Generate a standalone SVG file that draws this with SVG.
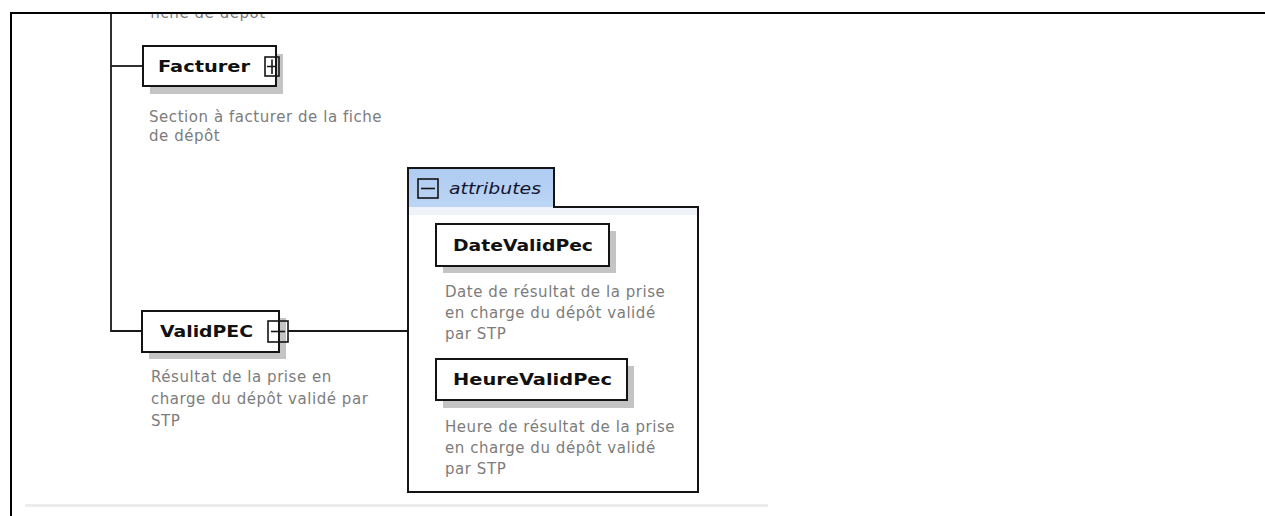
<svg xmlns="http://www.w3.org/2000/svg" width="1265" height="516" viewBox="0 0 1265 516">
<style>
.ln{stroke:#1a1a1a;stroke-width:1.8;fill:none}
.box{fill:#fff;stroke:#141414;stroke-width:2}
.sh{fill:#c4c4c4}
.nm{font-family:"DejaVu Sans","Liberation Sans",sans-serif;font-weight:bold;font-size:16px;fill:#111}
.ds{font-family:"DejaVu Sans","Liberation Sans",sans-serif;font-size:15px;fill:#7c7c7c}
.ic{fill:none;stroke:#141414;stroke-width:1.6}
</style>
<defs>
<clipPath id="clipTop"><rect x="12" y="14" width="1253" height="502"/></clipPath>
<linearGradient id="tabg" x1="0" y1="0" x2="0" y2="1">
<stop offset="0" stop-color="#aecbf1"/>
<stop offset="1" stop-color="#bcd5f4"/>
</linearGradient>
</defs>
<rect width="1265" height="516" fill="#fff"/>
<!-- frame -->
<rect x="10" y="12" width="1255" height="2" fill="#000"/>
<rect x="10" y="12" width="2" height="504" fill="#000"/>
<rect x="25" y="504" width="743" height="3" fill="#ececec"/>

<g id="connectors">
<path class="ln" d="M111 14 V331 H143"/>
<path class="ln" d="M111 66 H143"/>
<path class="ln" d="M288 331 H408"/>
</g>

<g id="prev-desc" clip-path="url(#clipTop)">
<text class="ds" x="150" y="18" letter-spacing="0.55">fiche de dépôt</text>
</g>

<g id="Facturer">
<rect class="sh" x="150" y="54" width="133" height="40"/>
<rect class="box" x="143" y="46" width="133" height="40"/>
<text class="nm" x="158" y="72" textLength="92" lengthAdjust="spacingAndGlyphs">Facturer</text>
<rect x="265" y="57" width="14" height="19" fill="#fff" class="ic"/>
<path class="ic" d="M267 66.5 H277 M272 59.5 V74"/>
<text class="ds" x="149" y="122" letter-spacing="0.55">Section à facturer de la fiche</text>
<text class="ds" x="149" y="141" letter-spacing="0.55">de dépôt</text>
</g>

<g id="ValidPEC">
<rect class="sh" x="149" y="318" width="137" height="41"/>
<rect class="box" x="142" y="311" width="137" height="41"/>
<text class="nm" x="160" y="337" textLength="93" lengthAdjust="spacingAndGlyphs">ValidPEC</text>
<rect x="268" y="321" width="20" height="21" fill="#fff" class="ic"/>
<path class="ic" d="M271 331.5 H285"/>
<text class="ds" x="151" y="382" letter-spacing="0.55">Résultat de la prise en</text>
<text class="ds" x="151" y="404" letter-spacing="0.55">charge du dépôt validé par</text>
<text class="ds" x="151" y="426" letter-spacing="0.55">STP</text>
</g>

<g id="attributes">
<path d="M408 207 V168 H554 V207 Z" fill="url(#tabg)"/>
<rect x="409" y="207" width="289" height="8" fill="#f0f4fa"/>
<path d="M408 492 V168 H554 V207 H698 V492 Z" fill="none" stroke="#141414" stroke-width="2"/>
<rect class="ic" x="418" y="179" width="20" height="19"/>
<path class="ic" d="M421 188.5 H435"/>
<text x="449" y="194" font-family="DejaVu Sans,'Liberation Sans',sans-serif" font-style="italic" font-size="15" fill="#15152e" textLength="92" lengthAdjust="spacingAndGlyphs">attributes</text>
</g>

<g id="DateValidPec">
<rect class="sh" x="443" y="231" width="173" height="42"/>
<rect class="box" x="436" y="224" width="173" height="42"/>
<text class="nm" x="453" y="251" textLength="140" lengthAdjust="spacingAndGlyphs">DateValidPec</text>
<text class="ds" x="445" y="297" letter-spacing="0.55">Date de résultat de la prise</text>
<text class="ds" x="445" y="318" letter-spacing="0.55">en charge du dépôt validé</text>
<text class="ds" x="445" y="339" letter-spacing="0.55">par STP</text>
</g>

<g id="HeureValidPec">
<rect class="sh" x="443" y="366" width="191" height="42"/>
<rect class="box" x="436" y="359" width="191" height="41"/>
<text class="nm" x="453" y="385" textLength="159" lengthAdjust="spacingAndGlyphs">HeureValidPec</text>
<text class="ds" x="445" y="432" letter-spacing="0.55">Heure de résultat de la prise</text>
<text class="ds" x="445" y="453" letter-spacing="0.55">en charge du dépôt validé</text>
<text class="ds" x="445" y="474" letter-spacing="0.55">par STP</text>
</g>
</svg>
